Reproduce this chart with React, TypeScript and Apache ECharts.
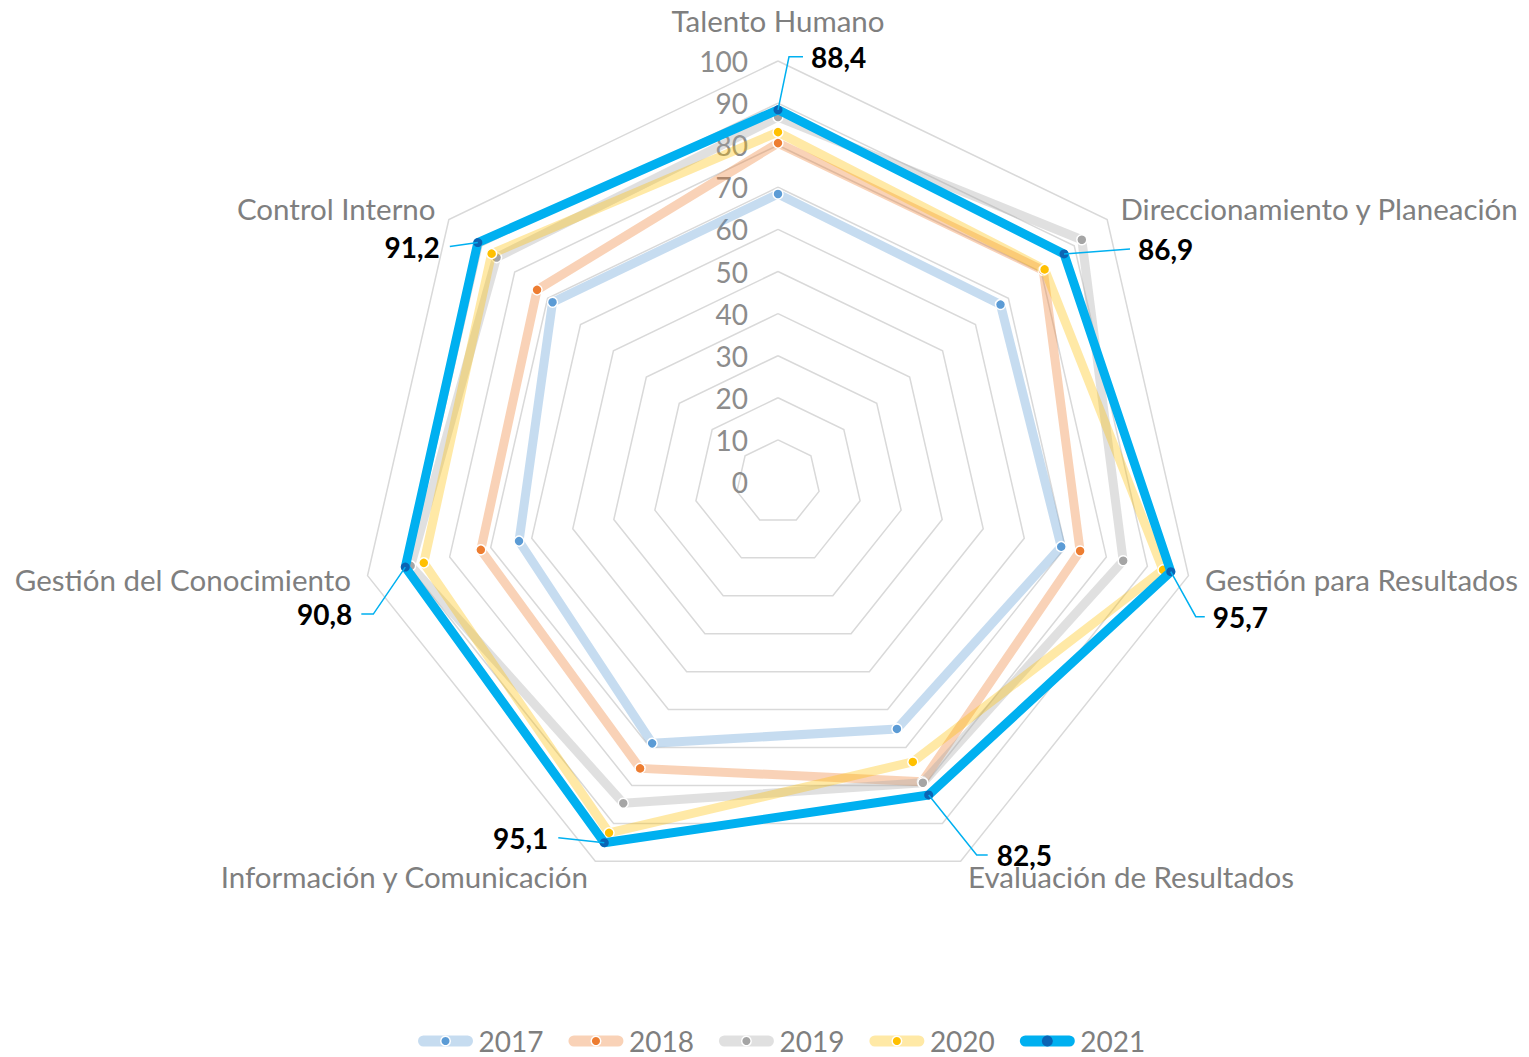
import React, { useEffect, useRef } from 'react';
import * as echarts from 'echarts';

const categories = [
  'Talento Humano',
  'Direccionamiento y Planeación',
  'Gestión para Resultados',
  'Evaluación de Resultados',
  'Información y Comunicación',
  'Gestión del Conocimiento',
  'Control Interno',
];
const years = ['2017', '2018', '2019', '2020', '2021'];
const v2017 = [68.4, 67.6, 69.0, 65.1, 68.9, 63.1, 68.5];
const v2018 = [80.5, 80.6, 73.6, 79.0, 75.5, 72.4, 73.2];
const v2019 = [86.7, 92.3, 84.1, 79.3, 84.7, 89.5, 85.5];
const v2020 = [83.1, 81.0, 93.8, 73.8, 92.5, 86.3, 87.0];
const v2021 = [88.4, 86.9, 95.7, 82.5, 95.1, 90.8, 91.2];
const axisMin = 0;
const axisMax = 100;
const axisInterval = 10;

const FONT = 'Lato';
const CX = 778;
const CY = 482;
const R = 421;

const lineColors = [
  'rgba(91,155,213,0.35)',
  'rgba(237,125,49,0.35)',
  'rgba(165,165,165,0.35)',
  'rgba(255,192,0,0.35)',
  '#00b0f0',
];
const dotColors = ['#5b9bd5', '#ed7d31', '#a5a5a5', '#ffc000', '#0b64b4'];

// label layout for 2021 values: [elbowDx, elbowDy, endDx, endDy, textDx, textDy, align]
const labelLayout: [number, number, number, number, number, number, string][] = [
  [11, -53, 25, -53, 33, -53, 'left'],
  [66, -5, 66, -5, 74, -5, 'left'],
  [25, 45, 34, 45, 42, 45, 'left'],
  [48, 60, 59, 60, 68, 60, 'left'],
  [-46, -5, -46, -5, -56, -5, 'right'],
  [-32, 47, -44, 47, -53, 47, 'right'],
  [-28, 4, -28, 4, -38, 4, 'right'],
];

// ECharts places radar indicators counter-clockwise; reference goes clockwise
const order = [0, 6, 5, 4, 3, 2, 1];

export default function App() {
  const ref = useRef<HTMLDivElement>(null);
  useEffect(() => {
    document.body.style.margin = '0';
    const chart = echarts.init(ref.current!, undefined, { renderer: 'svg' });
    const all = [v2017, v2018, v2019, v2020, v2021];

    const radarSeries = years.map((y, i) => ({
      type: 'radar',
      name: y,
      z: 2 + i,
      symbol: 'circle',
      symbolSize: i === 4 ? 9 : 10,
      lineStyle: { color: lineColors[i], width: 9, cap: 'round', join: 'round' },
      itemStyle: {
        color: dotColors[i],
        borderColor: i === 4 ? '#0b64b4' : '#ffffff',
        borderWidth: i === 4 ? 0 : 1.5,
      },
      data: [{ name: y, value: order.map((k) => all[i][k]) }],
    }));

    const dummyLines = years.map((y, i) => ({
      type: 'line',
      name: y,
      data: [],
      symbol: 'circle',
      lineStyle: { color: lineColors[i], width: 11, cap: 'round' },
      itemStyle: {
        color: dotColors[i],
        borderColor: i === 4 ? '#0b64b4' : '#ffffff',
        borderWidth: i === 4 ? 0 : 1.5,
      },
    }));

    const graphics: any[] = [];
    v2021.forEach((v, k) => {
      const theta = (k * 2 * Math.PI) / categories.length;
      const r = ((v - axisMin) / (axisMax - axisMin)) * R;
      const px = CX + r * Math.sin(theta);
      const py = CY - r * Math.cos(theta);
      const L = labelLayout[k];
      graphics.push({
        type: 'polyline',
        shape: {
          points: [
            [px, py],
            [px + L[0], py + L[1]],
            [px + L[2], py + L[3]],
          ],
        },
        style: { stroke: '#00b0f0', lineWidth: 1.5, fill: null },
        z: 100,
      });
      graphics.push({
        type: 'text',
        x: px + L[4],
        y: py + L[5],
        style: {
          text: v.toFixed(1).replace('.', ','),
          fill: '#000000',
          fontFamily: FONT,
          fontWeight: 'bold',
          fontSize: 28,
          align: L[6],
          verticalAlign: 'middle',
        },
        z: 100,
      });
    });

    chart.setOption({
      animation: false,
      textStyle: { fontFamily: FONT },
      grid: { show: false, left: 0, top: 0, width: 10, height: 10 },
      xAxis: { type: 'category', show: false, data: [] },
      yAxis: { type: 'value', show: false },
      polar: { center: [CX, CY], radius: R },
      angleAxis: { type: 'value', show: false, startAngle: 90, min: 0, max: 360 },
      radiusAxis: {
        type: 'value',
        min: axisMin,
        max: axisMax,
        interval: axisInterval,
        axisLine: { show: false },
        axisTick: { show: false },
        splitLine: { show: false },
        axisLabel: { color: '#8c8c8c', fontSize: 28, fontFamily: FONT, margin: 30 },
        z: 1,
      },
      radar: {
        center: [CX, CY],
        radius: R,
        startAngle: 90,
        shape: 'polygon',
        splitNumber: (axisMax - axisMin) / axisInterval,
        indicator: order.map((k) => ({ name: categories[k], min: axisMin, max: axisMax })),
        axisName: {
          color: '#7f7f7f',
          fontSize: 29.5,
          fontFamily: FONT,
          formatter: (name: string) => (name === categories[0] ? `{top|${name}}` : name),
          rich: {
            top: { color: '#7f7f7f', fontSize: 29.5, fontFamily: FONT, padding: [0, 0, 9, 0] },
          },
        },
        nameGap: 17,
        axisLine: { show: false },
        axisTick: { show: false },
        axisLabel: { show: false },
        splitArea: { show: false },
        splitLine: { lineStyle: { color: '#d9d9d9', width: 1.5 } },
      },
      legend: {
        data: years,
        bottom: 1,
        left: 418,
        padding: 0,
        itemWidth: 44,
        itemHeight: 12,
        itemGap: 25,
        lineStyle: { width: 11 },
        itemStyle: { borderWidth: 1.5 },
        textStyle: {
          color: '#7f7f7f',
          fontSize: 28,
          lineHeight: 30,
          fontFamily: FONT,
          padding: [0, 0, 0, 6],
        },
      },
      graphic: graphics,
      series: [...dummyLines, ...radarSeries],
    });
    return () => chart.dispose();
  }, []);
  return <div ref={ref} style={{ width: 1529, height: 1057 }} />;
}
